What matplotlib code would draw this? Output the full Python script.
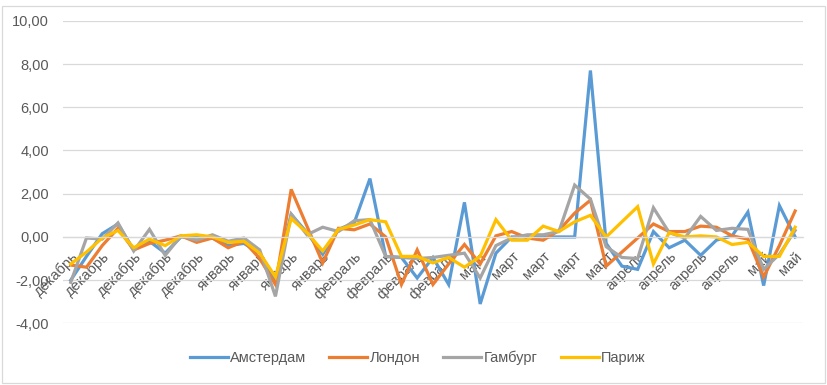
import matplotlib
matplotlib.use("Agg")
import matplotlib.pyplot as plt
from matplotlib.ticker import FuncFormatter
from matplotlib.patches import Rectangle

months = (["декабрь"] * 10 + ["январь"] * 8 + ["февраль"] * 8 +
          ["март"] * 10 + ["апрель"] * 8 + ["май"] * 3)

amsterdam = [-2.0, -0.9, 0.15, 0.6, -0.6, -0.2, -0.75, 0.0, 0.0, -0.05,
             -0.4, -0.3, -0.75, -2.0, 1.05, 0.2, -0.8, 0.35, 0.65, 2.7,
             -0.9, -0.95, -1.9, -0.95, -2.2, 1.6, -3.1, -0.75, 0.0, 0.0,
             0.0, 0.0, 0.0, 7.7, -0.3, -1.35, -1.5, 0.25, -0.5, -0.15,
             -0.85, -0.15, 0.05, 1.15, -2.25, 1.45, 0.0]
london = [-1.3, -1.4, -0.4, 0.4, -0.6, -0.3, -0.15, 0.05, -0.25, -0.05,
          -0.5, -0.2, -1.0, -2.2, 2.2, 0.5, -1.2, 0.4, 0.33, 0.6,
          0.0, -2.2, -0.6, -2.2, -1.25, -0.35, -1.25, 0.05, 0.25, -0.05,
          -0.15, 0.3, 1.1, 1.7, -1.35, -0.7, -0.05, 0.6, 0.25, 0.25,
          0.5, 0.45, 0.05, -0.1, -1.85, -0.4, 1.2]
hamburg = [-2.1, -0.05, -0.1, 0.65, -0.65, 0.35, -0.85, 0.05, -0.15, 0.1,
           -0.2, -0.05, -0.6, -2.75, 1.05, 0.1, 0.45, 0.25, 0.75, 0.8,
           -0.9, -0.95, -1.0, -0.95, -0.85, -0.75, -1.9, -0.4, -0.05, 0.1,
           0.1, 0.25, 2.4, 1.75, -0.45, -0.95, -1.0, 1.35, 0.2, -0.05,
           0.95, 0.3, 0.4, 0.35, -1.5, -0.8, 0.3]
paris = [-1.25, -0.7, -0.05, 0.3, -0.5, -0.1, -0.4, 0.05, 0.1, 0.0,
         -0.25, -0.2, -0.75, -1.85, 0.85, 0.2, -0.65, 0.35, 0.55, 0.8,
         0.7, -0.9, -0.9, -1.2, -0.95, -1.4, -0.9, 0.8, -0.15, -0.15,
         0.5, 0.25, 0.7, 1.0, 0.0, 0.7, 1.4, -1.25, 0.2, 0.0,
         0.05, 0.0, -0.35, -0.25, -0.9, -0.9, 0.45]

series_names = ["Амстердам", "Лондон", "Гамбург", "Париж"]
colors = ["#5B9BD5", "#ED7D31", "#A5A5A5", "#FFC000"]

plt.rcParams['font.family'] = ['Liberation Sans', 'DejaVu Sans']

fig = plt.figure(figsize=(8.27, 3.85), dpi=100)
fig.patches.append(Rectangle((0.003, 0.004), 0.994, 0.98, transform=fig.transFigure,
                             fill=False, edgecolor='#D9D9D9', lw=0.9))
ax = fig.add_axes([0.076, 0.160, 0.895, 0.786])

x = list(range(len(months)))
for vals, name, c in zip([amsterdam, london, hamburg, paris], series_names, colors):
    ax.plot(x, vals, color=c, lw=2.3, label=name, solid_joinstyle='miter')

ax.set_xlim(-0.5, len(months) - 0.5)
ax.set_ylim(-4, 10)
ax.set_yticks(range(-4, 11, 2))
ax.yaxis.set_major_formatter(FuncFormatter(lambda v, p: f"{v:.2f}".replace('.', ',')))
ax.grid(axis='y', color='#D9D9D9', lw=0.9)
ax.set_axisbelow(True)

for s in ['top', 'right', 'left']:
    ax.spines[s].set_visible(False)
ax.spines['bottom'].set_position(('data', 0))
ax.spines['bottom'].set_color('#D9D9D9')
ax.spines['bottom'].set_linewidth(0.9)

ax.set_xticks(x[::2])
ax.set_xticklabels(months[::2], rotation=45, ha='right', va='top',
                   rotation_mode='anchor', fontsize=10.5, color='#595959')
ax.tick_params(axis='x', length=0, pad=9)
ax.tick_params(axis='y', length=0, pad=10, labelsize=10.5, labelcolor='#595959')

fig.legend(loc='center', bbox_to_anchor=(0.505, 1 - 358 / 385), ncol=4, frameon=False,
           fontsize=10.5, handlelength=2.6, handletextpad=0.15, columnspacing=1.6,
           labelcolor='#595959')

fig.savefig("out.png", dpi=100)
